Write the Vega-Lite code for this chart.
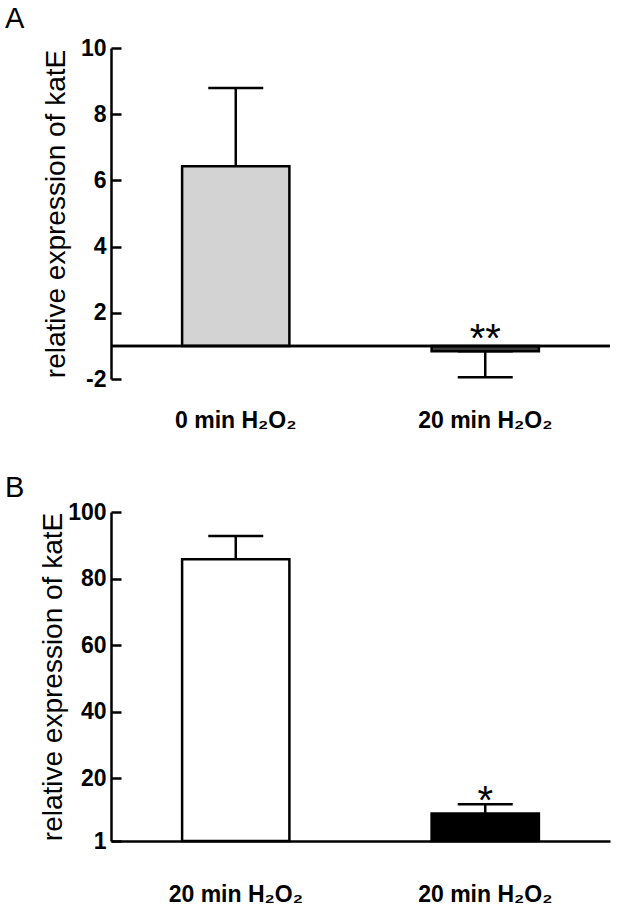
{
  "$schema": "https://vega.github.io/schema/vega-lite/v6.json",
  "padding": {"left": 5, "top": 5, "right": 5, "bottom": 5},
  "background": "white",
  "spacing": 42,
  "config": {
    "view": {"stroke": null},
    "font": "Liberation Sans",
    "axis": {
      "labelFont": "Liberation Sans", "labelFontWeight": "bold", "labelFontSize": 23, "labelColor": "black",
      "titleFont": "Liberation Sans", "titleFontWeight": "normal", "titleFontSize": 28, "titleColor": "black",
      "domainColor": "black", "domainWidth": 2.5, "tickColor": "black", "tickWidth": 2.5, "grid": false
    },
    "title": {"font": "Liberation Sans", "fontSize": 29, "fontWeight": "normal", "anchor": "start", "frame": "group", "color": "black", "baseline": "alphabetic"}
  },
  "datasets": {
    "a": [
      {"condition": "0 min H₂O₂", "value": 6.43, "err_lo": 6.43, "err_hi": 8.79, "sig": ""},
      {"condition": "20 min H₂O₂", "value": -1.16, "err_lo": -1.95, "err_hi": -1.16, "sig": "**"}
    ],
    "b": [
      {"bar": "1", "condition": "20 min H₂O₂", "value": 85.8, "err_lo": 85.8, "err_hi": 92.8, "sig": ""},
      {"bar": "2", "condition": "20 min H₂O₂", "value": 9.3, "err_lo": 9.3, "err_hi": 12.1, "sig": "*"}
    ]
  },
  "vconcat": [
    {
      "title": {"text": "A", "dx": -106, "offset": 3},
      "width": 499,
      "height": 331,
      "data": {"name": "a"},
      "layer": [
        {
          "mark": {"type": "rule", "strokeWidth": 2.5, "color": "black"},
          "encoding": {
            "x": {"field": "condition", "type": "nominal", "sort": null,
              "scale": {"paddingInner": 0.57, "paddingOuter": 0.285},
              "axis": {"title": null, "labelAngle": 0, "domain": false, "ticks": false, "labelPadding": 30}},
            "y": {"field": "err_lo", "type": "quantitative",
              "scale": {"domain": [-2, -1, 1, 10], "range": [331, 298, 298, 0], "nice": false, "zero": false},
              "axis": {"title": "relative expression of katE", "values": [-2, 2, 4, 6, 8, 10], "labelExpr": "'' + datum.value", "tickSize": -10, "labelPadding": 15, "titlePadding": 10}},
            "y2": {"field": "err_hi"}
          }
        },
        {
          "mark": {"type": "tick", "thickness": 2.5, "size": 55, "color": "black", "opacity": 1},
          "encoding": {
            "x": {"field": "condition", "type": "nominal", "sort": null},
            "y": {"field": "err_hi", "type": "quantitative"}
          }
        },
        {
          "mark": {"type": "tick", "thickness": 2.5, "size": 55, "color": "black", "opacity": 1},
          "encoding": {
            "x": {"field": "condition", "type": "nominal", "sort": null},
            "y": {"field": "err_lo", "type": "quantitative"}
          }
        },
        {
          "mark": {"type": "bar", "stroke": "black", "strokeWidth": 2.5},
          "encoding": {
            "x": {"field": "condition", "type": "nominal", "sort": null},
            "y": {"field": "value", "type": "quantitative"},
            "y2": {"datum": 0},
            "fill": {"field": "condition", "type": "nominal", "sort": null, "scale": {"range": ["#d3d3d3", "#3c3c3c"]}, "legend": null}
          }
        },
        {
          "mark": {"type": "rule", "strokeWidth": 2.5, "color": "black"},
          "encoding": {"y": {"datum": 0, "type": "quantitative"}}
        },
        {
          "mark": {"type": "text", "fontSize": 40, "baseline": "alphabetic", "dy": 1, "color": "black", "font": "Liberation Sans"},
          "encoding": {
            "x": {"field": "condition", "type": "nominal", "sort": null},
            "y": {"field": "err_hi", "type": "quantitative"},
            "text": {"field": "sig"}
          }
        }
      ]
    },
    {
      "title": {"text": "B", "dx": -106, "offset": -2},
      "width": 499,
      "height": 329,
      "data": {"name": "b"},
      "encoding": {
        "x": {"field": "bar", "type": "nominal", "sort": null,
          "scale": {"paddingInner": 0.57, "paddingOuter": 0.285},
          "axis": {"title": null, "labelAngle": 0, "domain": true, "ticks": false, "labelPadding": 42, "labelExpr": "'20 min H₂O₂'"}}
      },
      "layer": [
        {
          "mark": {"type": "rule", "strokeWidth": 2.5, "color": "black"},
          "encoding": {
            "y": {"field": "err_lo", "type": "quantitative",
              "scale": {"domain": [1, 20, 100], "range": [329, 266, 0], "nice": false, "zero": false},
              "axis": {"title": "relative expression of katE", "values": [1, 20, 40, 60, 80, 100], "tickSize": -10, "labelPadding": 15, "titlePadding": 0}},
            "y2": {"field": "err_hi"}
          }
        },
        {
          "mark": {"type": "tick", "thickness": 2.5, "size": 55, "color": "black", "opacity": 1},
          "encoding": {"y": {"field": "err_hi", "type": "quantitative"}}
        },
        {
          "mark": {"type": "bar", "stroke": "black", "strokeWidth": 2.5},
          "encoding": {
            "y": {"field": "value", "type": "quantitative"},
            "y2": {"datum": 1},
            "fill": {"field": "bar", "type": "nominal", "sort": null, "scale": {"range": ["#ffffff", "#000000"]}, "legend": null}
          }
        },
        {
          "mark": {"type": "text", "fontSize": 40, "baseline": "alphabetic", "dy": 10, "color": "black", "font": "Liberation Sans"},
          "encoding": {"y": {"field": "err_hi", "type": "quantitative"}, "text": {"field": "sig"}}
        }
      ],
      "resolve": {"scale": {"fill": "independent"}}
    }
  ],
  "resolve": {"scale": {"fill": "independent", "x": "independent", "y": "independent"}}
}
